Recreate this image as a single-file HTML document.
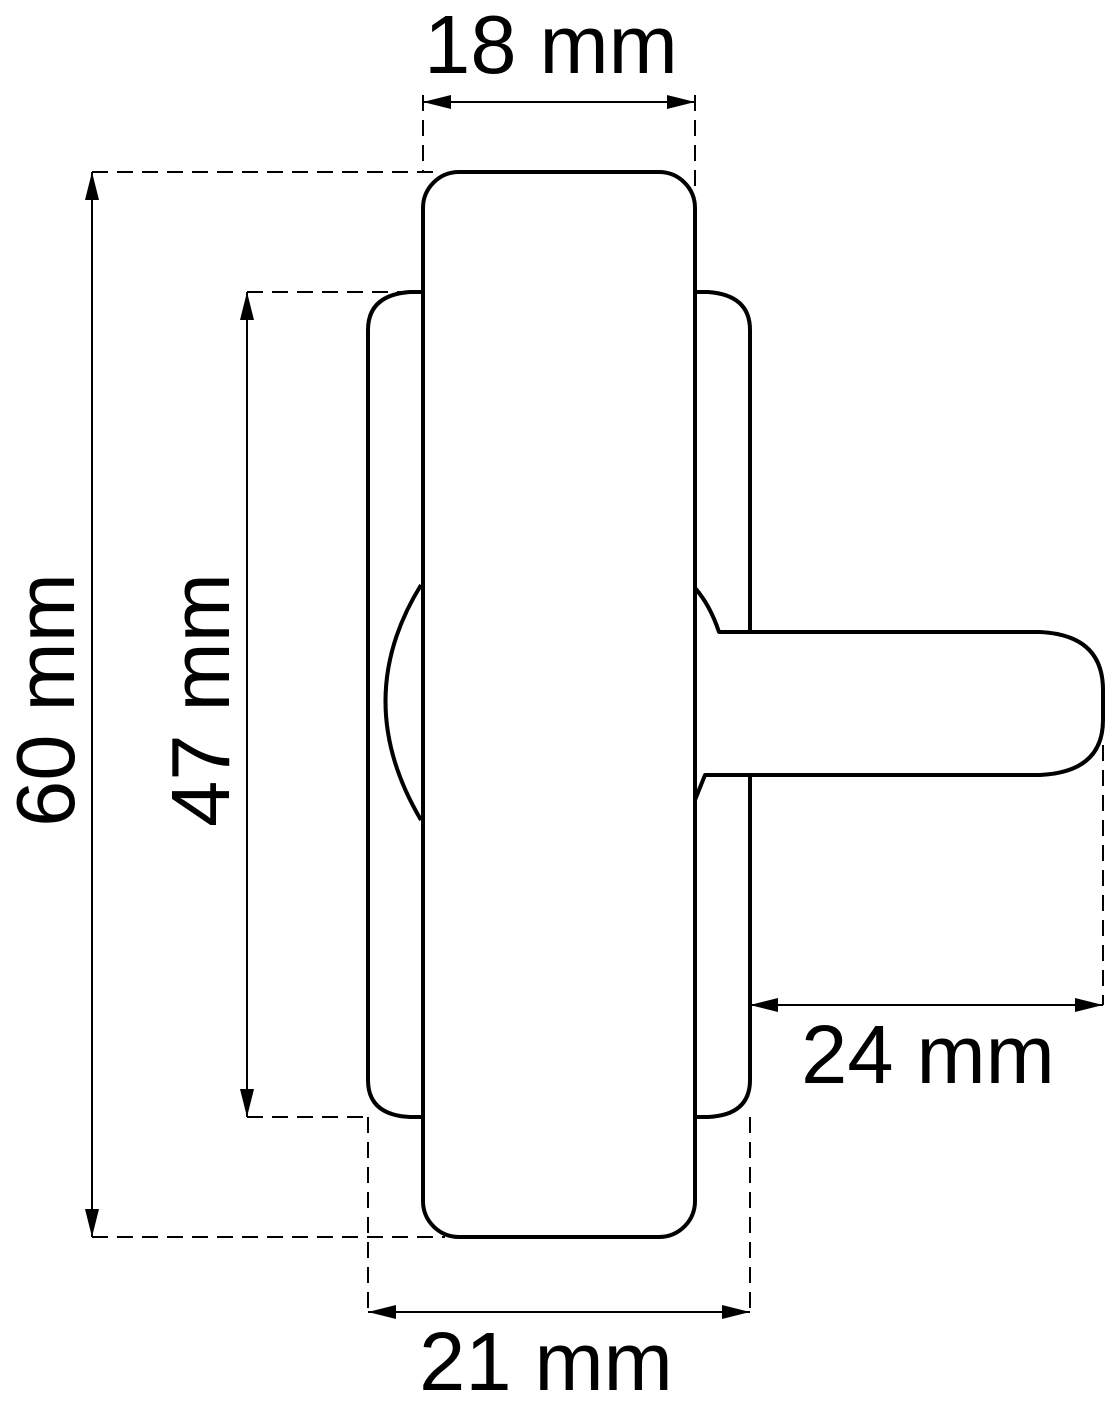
<!DOCTYPE html>
<html><head><style>html,body{margin:0;padding:0;background:#fff}svg{display:block}</style></head>
<body>
<svg width="1108" height="1417" viewBox="0 0 1108 1417" xmlns="http://www.w3.org/2000/svg">
<defs>
<marker id="a" viewBox="0 0 20 10" refX="20" refY="5" markerWidth="40" markerHeight="14" markerUnits="userSpaceOnUse" orient="auto-start-reverse"><path d="M0,0 L20,5 L0,10 z" fill="#000"/></marker>
</defs>
<g fill="none" stroke="#000" stroke-width="2" stroke-dasharray="16,9">
<line x1="423" y1="95" x2="423" y2="172"/>
<line x1="695" y1="95" x2="695" y2="190"/>
<line x1="92" y1="172" x2="440" y2="172"/>
<line x1="92" y1="1237" x2="445" y2="1237"/>
<line x1="247" y1="292" x2="423" y2="292"/>
<line x1="247" y1="1117" x2="368" y2="1117"/>
<line x1="368" y1="1117" x2="368" y2="1312"/>
<line x1="750" y1="1117" x2="750" y2="1312"/>
<line x1="1103" y1="745" x2="1103" y2="1005"/>
</g>
<g fill="none" stroke="#000" stroke-width="4" stroke-linejoin="round">
<path d="M423,292 L410,292 Q368,295 368,330 L368,1080 Q368,1115 410,1117 L423,1117"/>
<path d="M695,292 L708,292 Q750,295 750,330 L750,632"/>
<path d="M750,775 L750,1080 Q750,1115 708,1117 L695,1117"/>
<path d="M421,585 Q350,700 421,820"/>
<path d="M695,588 Q710,605 719,632 L1040,632 Q1103,635 1103,690 L1103,720 Q1103,772 1040,775 L705,775 L695,800"/>
<rect x="423" y="172" width="272" height="1065" rx="36" ry="36" fill="#fff"/>
</g>
<g stroke="#000" stroke-width="2" fill="none">
<line x1="423" y1="102" x2="695" y2="102" marker-start="url(#a)" marker-end="url(#a)"/>
<line x1="92" y1="172" x2="92" y2="1237" marker-start="url(#a)" marker-end="url(#a)"/>
<line x1="247" y1="292" x2="247" y2="1117" marker-start="url(#a)" marker-end="url(#a)"/>
<line x1="368" y1="1312" x2="750" y2="1312" marker-start="url(#a)" marker-end="url(#a)"/>
<line x1="750" y1="1005" x2="1103" y2="1005" marker-start="url(#a)" marker-end="url(#a)"/>
</g>
<g font-family="Liberation Sans, sans-serif" font-size="83" fill="#000" text-anchor="middle">
<text x="551" y="73">18 mm</text>
<text x="546" y="1390">21 mm</text>
<text x="928" y="1083">24 mm</text>
<text transform="translate(74,700) rotate(-90)">60 mm</text>
<text transform="translate(229,700) rotate(-90)">47 mm</text>
</g>
</svg>
</body></html>
